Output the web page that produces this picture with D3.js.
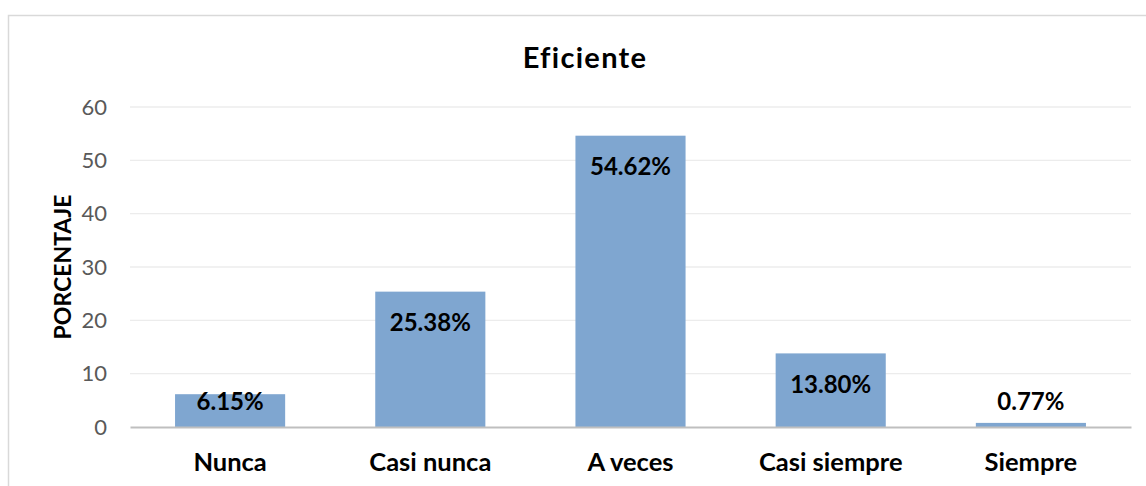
<!DOCTYPE html>
<meta charset="utf-8">
<html>
<script src="https://d3js.org/d3.v7.min.js"></script>
<body style="margin:0;background:#fff;">
<style>
    .tick text { font-family: Lato, "Open Sans", sans-serif; }
</style>
<div id="chart"></div>
<script>
    // data
    var categories = ["Nunca", "Casi nunca", "A veces", "Casi siempre", "Siempre"];
    var values = [6.15, 25.38, 54.62, 13.80, 0.77];
    var valueLabels = ["6.15%", "25.38%", "54.62%", "13.80%", "0.77%"];
    var yTicks = [0, 10, 20, 30, 40, 50, 60];

    var W = 1146, H = 486;
    var margin = {top: 107, right: 15, bottom: 59, left: 130},
        width = W - margin.left - margin.right,
        height = H - margin.top - margin.bottom;

    var root = d3.select("#chart").append("svg")
        .attr("width", W)
        .attr("height", H);

    // chart frame
    root.append("rect")
        .attr("x", 8.5).attr("y", 15.5)
        .attr("width", W + 20).attr("height", H + 20)
        .attr("fill", "none")
        .attr("stroke", "#d9d9d9")
        .attr("stroke-width", 1.5);

    var svg = root.append("g")
        .attr("transform", "translate(" + margin.left + "," + margin.top + ")");

    var x = d3.scaleBand().domain(categories).range([0, width]).paddingInner(0.45).paddingOuter(0.225);
    var y = d3.scaleLinear().domain([0, 60]).range([height, 0]);

    // gridlines
    svg.selectAll(".grid")
        .data(yTicks.slice(1))
        .enter().append("line")
        .attr("x1", 0).attr("x2", width)
        .attr("y1", function(d) {return y(d);})
        .attr("y2", function(d) {return y(d);})
        .attr("stroke", "#ececec")
        .attr("stroke-width", 1.3);

    // y axis labels
    var yAxis = svg.append("g")
        .call(d3.axisLeft(y).tickValues(yTicks).tickSize(0).tickPadding(23));
    yAxis.select(".domain").remove();
    yAxis.selectAll("text")
        .style("font-size", "22px")
        .attr("fill", "#595959");

    // bars
    svg.selectAll(".bar")
        .data(values)
        .enter().append("rect")
        .attr("x", function(d, i) {return x(categories[i]);})
        .attr("y", function(d) {return y(d);})
        .attr("width", x.bandwidth())
        .attr("height", function(d) {return height - y(d);})
        .attr("fill", "#7fa6d0");

    // x axis
    var xAxis = svg.append("g")
        .attr("transform", "translate(0," + height + ")")
        .call(d3.axisBottom(x).tickSize(0).tickPadding(26));
    xAxis.select(".domain")
        .attr("stroke", "#bfbfbf")
        .attr("stroke-width", 2);
    xAxis.selectAll("text")
        .style("font-size", "25.5px")
        .style("font-weight", "bold")
        .attr("fill", "#000");

    // value labels
    svg.selectAll(".vlabel")
        .data(values)
        .enter().append("text")
        .attr("x", function(d, i) {return x(categories[i]) + x.bandwidth() / 2;})
        .attr("y", function(d) {return Math.min(y(d) + 30, height - 27);})
        .attr("text-anchor", "middle")
        .attr("dominant-baseline", "central")
        .style("font-family", "Lato, 'Open Sans', sans-serif")
        .style("font-size", "24px")
        .style("font-weight", "bold")
        .text(function(d, i) {return valueLabels[i];});

    // title
    root.append("text")
        .attr("x", 585).attr("y", 56)
        .attr("text-anchor", "middle")
        .attr("dominant-baseline", "central")
        .style("font-family", "Lato, 'Open Sans', sans-serif")
        .style("font-size", "29px")
        .style("font-weight", "bold")
        .style("letter-spacing", "1.3px")
        .text("Eficiente");

    // y axis title
    root.append("text")
        .attr("transform", "translate(62," + (margin.top + y(30)) + ") rotate(-90)")
        .attr("text-anchor", "middle")
        .attr("dominant-baseline", "central")
        .style("font-family", "Lato, 'Open Sans', sans-serif")
        .style("font-size", "23px")
        .style("font-weight", "bold")
        .text("PORCENTAJE");
</script>
</body>
</html>
